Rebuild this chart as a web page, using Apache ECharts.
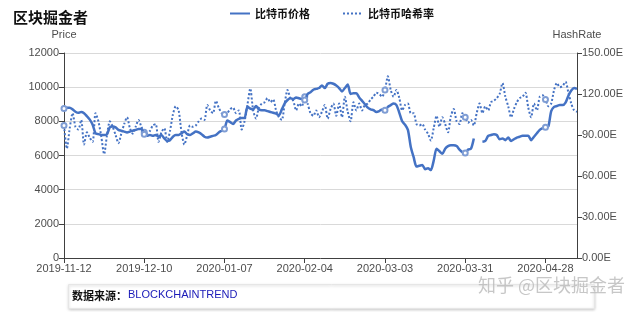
<!DOCTYPE html>
<html>
<head>
<meta charset="utf-8">
<script src="https://cdn.jsdelivr.net/npm/echarts@6/dist/echarts.min.js"></script>
<style>
  html, body { margin: 0; padding: 0; background: #fff; }
  #main { width: 640px; height: 312px; }
</style>
</head>
<body>
<div id="main"></div>
<script>
// daily dates, 2019-11-12 onward
var startDate = "2019-11-12";
var dayCount = 180;

// BTC price (USD)
var priceValues = [
  8750, 8800, 8800, 8700, 8560, 8500, 8550, 8480, 8300, 8100,
  7800, 7300, 7250, 7200, 7200, 7250, 7650, 7700, 7650, 7500,
  7450, 7400, 7350, 7400, 7450, 7500, 7550, 7550, 7250, 7150,
  7200, 7150, 7200, 7100, 7200, 7000, 6850, 6900, 7100, 7200,
  7200, 7300, 7400, 7250, 7200, 7300, 7400, 7350, 7250, 7100,
  7050, 7100, 7150, 7200, 7350, 7450, 7550, 8050, 7950, 7850,
  8050, 8150, 8200, 8200, 8850, 8750, 8700, 8900, 8700, 8650,
  8650, 8600, 8550, 8500, 8450, 8350, 8700, 9050, 9250, 9350,
  9300, 9400, 9350, 9300, 9250, 9600, 9700, 9850, 9900, 9950,
  10100, 9950, 10200, 10250, 10200, 10100, 9950, 9750, 9950, 10150,
  9600, 9650, 9650, 9400, 9200, 9000, 8800, 8700, 8650, 8550,
  8600, 8700, 8650, 8850, 8950, 9050, 8950, 8500, 8000, 7800,
  7500, 6500, 5900, 5350, 5400, 5450, 5200, 5250, 5150, 5700,
  6400, 6250, 6100, 6400, 6550, 6600, 6600, 6550, 6350, 6200,
  6150, 6350, 6400, 7000, null, null, 6800, 6850, 7150, 7200,
  7250, 7200, 6950, 7000, 6900, 7050, 6850, 6950, 7050, 7100,
  7150, 7150, 7150, 6900, 7100, 7300, 7500, 7600, 7650, 7700,
  8600, 8850, 8900, 8950, 8950, 9100, 9500, 9800, 9950, 9900
];

// hash rate (EH/s)
var hashValues = [
  97, 80, 95, 106, 96, 94, 101, 83, 92, 88,
  85, 106, 100, 89, 76, 90, 100, 96, 90, 84,
  91, 98, 103, 95, 91, 96, 101, 96, 92, 91,
  93, 97, 98, 85, 92, 95, 85, 93, 105, 111,
  108, 92, 83, 90, 97, 96, 97, 100, 102, 101,
  112, 108, 106, 115, 110, 106, 105, 106, 109, 110,
  106, 108, 94, 100, 112, 124, 108, 102, 110, 113,
  114, 117, 114, 116, 108, 103, 101, 113, 123, 117,
  115, 108, 113, 111, 118, 113, 106, 104, 108, 103,
  107, 112, 102, 109, 113, 104, 113, 103, 118, 107,
  100, 114, 108, 113, 108, 112, 113, 116, 118, 121,
  120, 118, 123, 133, 123, 118, 123, 117, 108, 112,
  113, 106, 106, 98, 97, 98, 94, 91, 86, 95,
  104, 96, 103, 98, 92, 104, 109, 100, 98, 106,
  103, 99, 101, 97, 106, 113, 106, 111, 108, 114,
  115, 117, 120, 128, 118, 111, 103, 109, 114, 117,
  118, 121, 110, 103, 113, 108, 118, 119, 116, 111,
  113, 123, 128, 125, 126, 129, 121, 113, 108, 107
];

var priceTicks = [0, 12000, 2000];
var hashTicks = [0, 150, 30];

var seriesNames = ["比特币价格", "比特币哈希率"];

// build date strings for the category axis
var dates = [];
var d0 = new Date(startDate + "T00:00:00Z");
for (var i = 0; i < dayCount; i++) {
  var d = new Date(d0.getTime() + i * 86400000);
  dates.push(d.toISOString().slice(0, 10));
}

var myChart = echarts.init(document.getElementById("main"));
var blue = "#4472c4";
var markerBlue = "#7f9dd4";
var axisText = "#4d4d4d";

var option = {
  animation: false,
  color: [blue, blue],
  title: {
    text: "区块掘金者",
    left: 8,
    top: 5,
    textStyle: { fontSize: 15, fontWeight: "bold", color: "#111", fontFamily: "Noto Sans CJK SC" }
  },
  legend: {
    top: 3,
    left: 224,
    itemGap: 32,
    itemWidth: 20,
    itemHeight: 10,
    itemStyle: { opacity: 0 },
    textStyle: { fontSize: 11, fontWeight: "bold", color: "#111", fontFamily: "Noto Sans CJK SC" },
    data: seriesNames
  },
  grid: { left: 64, right: 63, top: 53, bottom: 54 },
  xAxis: {
    type: "category",
    data: dates,
    boundaryGap: false,
    axisLine: { lineStyle: { color: "#404040" } },
    axisTick: { interval: 27, alignWithLabel: true, lineStyle: { color: "#404040" } },
    axisLabel: { interval: 27, color: axisText, fontSize: 11, margin: 5 }
  },
  yAxis: [
    {
      type: "value",
      name: "Price",
      nameGap: 13,
      nameTextStyle: { color: axisText, fontSize: 11, align: "center" },
      min: priceTicks[0],
      max: priceTicks[1],
      interval: priceTicks[2],
      axisLine: { show: true, lineStyle: { color: "#404040" } },
      axisTick: { show: true, lineStyle: { color: "#404040" } },
      axisLabel: { color: axisText, fontSize: 11, margin: 5, formatter: function (v) { return String(v); } },
      splitLine: { lineStyle: { color: "#d9d9d9" } }
    },
    {
      type: "value",
      name: "HashRate",
      nameGap: 13,
      nameTextStyle: { color: axisText, fontSize: 11, align: "center" },
      min: hashTicks[0],
      max: hashTicks[1],
      interval: hashTicks[2],
      axisLine: { show: true, lineStyle: { color: "#404040" } },
      axisTick: { show: true, lineStyle: { color: "#404040" } },
      axisLabel: {
        color: axisText, fontSize: 11, margin: 5,
        formatter: function (v) { return v.toFixed(2) + "E"; }
      },
      splitLine: { show: false }
    }
  ],
  series: [
    {
      name: seriesNames[0],
      type: "line",
      yAxisIndex: 0,
      data: priceValues,
      smooth: 0.25,
      symbol: "emptyCircle",
      symbolSize: 5,
      connectNulls: false,
      lineStyle: { width: 2.5, color: blue },
      itemStyle: { color: markerBlue, borderWidth: 1 },
      z: 3
    },
    {
      name: seriesNames[1],
      type: "line",
      yAxisIndex: 1,
      data: hashValues,
      smooth: 0.25,
      symbol: "emptyCircle",
      symbolSize: 5,
      lineStyle: { width: 2, type: "dotted", color: blue },
      itemStyle: { color: markerBlue, borderWidth: 1 },
      z: 2
    }
  ],
  graphic: [
    {
      type: "rect",
      left: 68,
      top: 284,
      shape: { width: 526, height: 24 },
      style: { fill: "#fff", stroke: "#e6e6e6", shadowBlur: 3, shadowColor: "rgba(0,0,0,0.2)", shadowOffsetY: 1 },
      z: 10
    },
    {
      type: "text",
      left: 72,
      top: 290,
      style: { text: "数据来源：", fill: "#111", font: "bold 11px 'Noto Sans CJK SC'" },
      z: 11
    },
    {
      type: "text",
      left: 128,
      top: 289,
      style: { text: "BLOCKCHAINTREND", fill: "#1a1ab8", font: "11px 'Liberation Sans Narrow', 'Liberation Sans'" },
      z: 11
    },
    {
      type: "text",
      left: 478,
      top: 276,
      style: { text: "知乎 @区块掘金者", fill: "rgba(185,185,185,0.8)", font: "18px 'Noto Sans CJK SC'" },
      z: 12
    }
  ]
};

myChart.setOption(option);
</script>
</body>
</html>
